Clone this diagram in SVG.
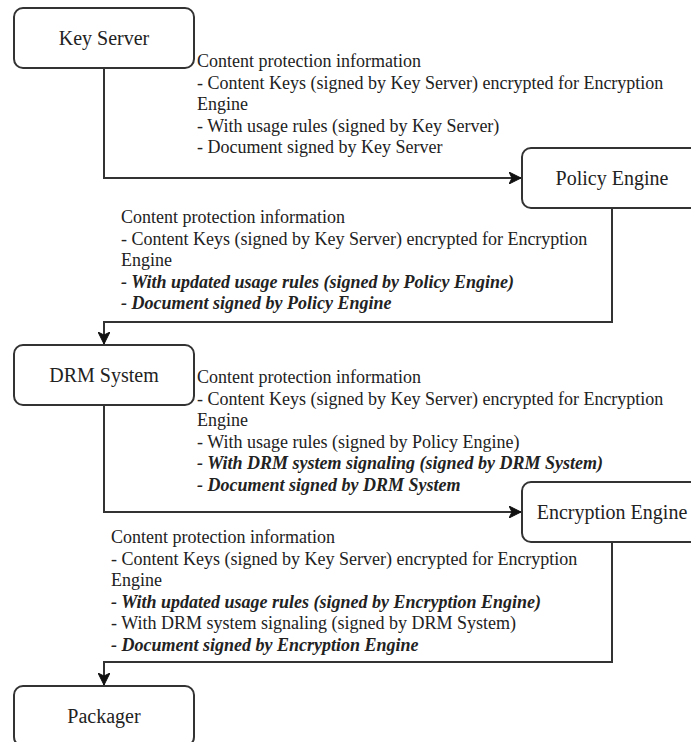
<svg xmlns="http://www.w3.org/2000/svg" width="691" height="742" viewBox="0 0 691 742">
  <style>
    .box { fill: #ffffff; stroke: #333333; stroke-width: 2; }
    .label { font-family: "Liberation Serif", "Times New Roman", serif; font-size: 20px; fill: #222222; text-anchor: middle; }
    .info { font-family: "Liberation Serif", "Times New Roman", serif; font-size: 18px; fill: #222222; }
    .em { font-style: italic; font-weight: bold; }
    .wire { fill: none; stroke: #333333; stroke-width: 2; marker-end: url(#arrow); }
  </style>
  <defs>
    <marker id="arrow" markerUnits="userSpaceOnUse" viewBox="-12 -6 13 12" refX="0" refY="0" markerWidth="13" markerHeight="12" orient="auto">
      <path d="M0 0 L-12 -6 L-9 0 L-12 6 Z" fill="#111111" stroke="#111111" stroke-width="1" stroke-linejoin="miter"/>
    </marker>
  </defs>
  <rect width="691" height="742" fill="#ffffff"/>

  <g id="connectors">
    <path class="wire" d="M104 68 V178 H521"/>
    <path class="wire" d="M612 208 V322 H104 V344"/>
    <path class="wire" d="M104 405 V512 H521"/>
    <path class="wire" d="M612 542 V662 H104 V685"/>
  </g>

  <g id="key-server">
    <rect class="box" x="14" y="8" width="180" height="60" rx="9"/>
    <text class="label" x="104" y="45">Key Server</text>
  </g>
  <g id="policy-engine">
    <rect class="box" x="522" y="148" width="180" height="60" rx="9"/>
    <text class="label" x="612" y="185">Policy Engine</text>
  </g>
  <g id="drm-system">
    <rect class="box" x="14" y="345" width="180" height="60" rx="9"/>
    <text class="label" x="104" y="382">DRM System</text>
  </g>
  <g id="encryption-engine">
    <rect class="box" x="522" y="482" width="180" height="60" rx="9"/>
    <text class="label" x="612" y="519">Encryption Engine</text>
  </g>
  <g id="packager">
    <rect class="box" x="14" y="686" width="180" height="60" rx="9"/>
    <text class="label" x="104" y="723">Packager</text>
  </g>

  <g id="info-key-server">
    <text class="info" x="197" y="67">
      <tspan x="197">Content protection information</tspan>
      <tspan x="197" dy="21.6">- Content Keys (signed by Key Server) encrypted for Encryption</tspan>
      <tspan x="197" dy="21.6">Engine</tspan>
      <tspan x="197" dy="21.6">- With usage rules (signed by Key Server)</tspan>
      <tspan x="197" dy="21.6">- Document signed by Key Server</tspan>
    </text>
  </g>
  <g id="info-policy-engine">
    <text class="info" x="121" y="223">
      <tspan x="121">Content protection information</tspan>
      <tspan x="121" dy="21.6">- Content Keys (signed by Key Server) encrypted for Encryption</tspan>
      <tspan x="121" dy="21.6">Engine</tspan>
      <tspan x="121" dy="21.6" class="em">- With updated usage rules (signed by Policy Engine)</tspan>
      <tspan x="121" dy="21.6" class="em">- Document signed by Policy Engine</tspan>
    </text>
  </g>
  <g id="info-drm-system">
    <text class="info" x="197" y="383">
      <tspan x="197">Content protection information</tspan>
      <tspan x="197" dy="21.6">- Content Keys (signed by Key Server) encrypted for Encryption</tspan>
      <tspan x="197" dy="21.6">Engine</tspan>
      <tspan x="197" dy="21.6">- With usage rules (signed by Policy Engine)</tspan>
      <tspan x="197" dy="21.6" class="em">- With DRM system signaling (signed by DRM System)</tspan>
      <tspan x="197" dy="21.6" class="em">- Document signed by DRM System</tspan>
    </text>
  </g>
  <g id="info-encryption-engine">
    <text class="info" x="111" y="543">
      <tspan x="111">Content protection information</tspan>
      <tspan x="111" dy="21.6">- Content Keys (signed by Key Server) encrypted for Encryption</tspan>
      <tspan x="111" dy="21.6">Engine</tspan>
      <tspan x="111" dy="21.6" class="em">- With updated usage rules (signed by Encryption Engine)</tspan>
      <tspan x="111" dy="21.6">- With DRM system signaling (signed by DRM System)</tspan>
      <tspan x="111" dy="21.6" class="em">- Document signed by Encryption Engine</tspan>
    </text>
  </g>
</svg>
